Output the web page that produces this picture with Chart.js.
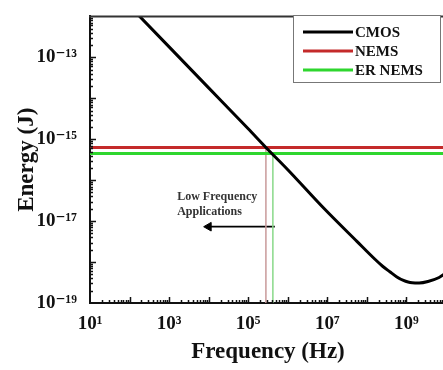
<!DOCTYPE html>
<html><head><meta charset="utf-8">
<script src="https://cdn.jsdelivr.net/npm/chart.js@4.4.1/dist/chart.umd.min.js"></script>
<style>
html,body{margin:0;padding:0;background:#fff;overflow:hidden;}
#wrap{width:443px;height:370px;overflow:hidden;position:relative;background:#fff;}
canvas{display:block;}
</style></head><body>
<div id="wrap"><canvas id="c" width="452" height="370"></canvas></div>
<script>
// ---- data ----
const seriesNames = ['CMOS', 'NEMS', 'ER NEMS'];
const cmosFreq   = [1e2, 1e3, 1e4, 1e5, 2.8e5, 1e6, 8.4e6, 5.6e7, 1.6e8, 2.5e8, 3.8e8, 5.6e8, 8.4e8, 1.1e9, 1.4e9, 2.1e9, 3.5e9, 6.7e9, 1e10];
const cmosEnergy = [1.8e-12, 1.8e-13, 1.8e-14, 1.8e-15, 6.3e-16, 1.8e-16, 2.0e-17, 3.2e-18, 1.17e-18, 7.9e-19, 5.8e-19, 4.4e-19, 3.55e-19, 3.25e-19, 3.12e-19, 3.08e-19, 3.35e-19, 4.2e-19, 5.4e-19];
const flatFreq   = [10, 1e10];
const nemsEnergy   = [6.3e-16, 6.3e-16];
const erNemsEnergy = [4.5e-16, 4.5e-16];
const nemsCrossFreq   = [2.8e5, 2.8e5];
const nemsCrossEnergy = [6.3e-16, 1e-19];
const erCrossFreq     = [4.2e5, 4.2e5];
const erCrossEnergy   = [4.5e-16, 1e-19];
const arrowFreq   = [1e4, 4.7e5];
const arrowEnergy = [7.3e-18, 7.3e-18];
const noteLines  = ['Low Frequency', 'Applications'];
const noteFreq   = 1.6e3;
const noteEnergy = [3.8e-17, 1.7e-17];
const xTickExps  = [1, 2, 3, 4, 5, 6, 7, 8, 9, 10];
const xLabelExps = [1, 3, 5, 7, 9];
const yTickExps  = [-19, -18, -17, -16, -15, -14, -13, -12];
const yLabelExps = [-19, -17, -15, -13];
const xTitle = 'Frequency (Hz)';
const yTitle = 'Energy (J)';

const SERIF = '"Liberation Serif", "DejaVu Serif", "Times New Roman", serif';
const supMap = {'0':'⁰','1':'¹','2':'²','3':'³','4':'⁴','5':'⁵','6':'⁶','7':'⁷','8':'⁸','9':'⁹','-':'⁻'};
const sup = e => String(e).split('').map(c => supMap[c]).join('');
const pts = (xs, ys) => xs.map((v, i) => ({x: v, y: ys[i]}));

const frame = {
  id: 'frame',
  afterDatasetsDraw(chart) {
    const {ctx, chartArea: a, scales: {x, y}} = chart;
    ctx.save();
    ctx.strokeStyle = '#111';
    ctx.lineWidth = 1.5;
    ctx.beginPath();
    for (let i = 0; i < xTickExps.length; i++) {
      for (let k = 1; k <= 9; k++) {
        const px = Math.round(x.getPixelForValue(k * Math.pow(10, xTickExps[i]))) + 0.5;
        if (px < a.left + 1 || px > a.right) continue;
        const len = k === 1 ? 6 : 3;
        ctx.moveTo(px, a.bottom); ctx.lineTo(px, a.bottom - len);
      }
    }
    for (let i = 0; i < yTickExps.length; i++) {
      for (let k = 1; k <= 9; k++) {
        const py = Math.round(y.getPixelForValue(k * Math.pow(10, yTickExps[i]))) + 0.5;
        if (py < a.top + 1 || py > a.bottom - 1) continue;
        const len = k === 1 ? 6 : 3;
        ctx.moveTo(a.left, py); ctx.lineTo(a.left + len, py);
      }
    }
    ctx.stroke();
    ctx.strokeStyle = '#333';
    ctx.lineWidth = 2;
    ctx.beginPath();
    ctx.moveTo(a.left - 1, a.top); ctx.lineTo(a.right + 2, a.top);
    ctx.stroke();
    // annotation text
    ctx.fillStyle = '#333';
    ctx.font = 'bold 12px ' + SERIF;
    ctx.textAlign = 'left';
    ctx.textBaseline = 'middle';
    noteLines.forEach((t, i) => {
      ctx.fillText(t, x.getPixelForValue(noteFreq), y.getPixelForValue(noteEnergy[i]));
    });
    ctx.restore();
  },
  afterDraw(chart) {
    const {ctx} = chart;
    ctx.save();
    const bx = 293.5, by = 15.5, bw = 147, bh = 67;
    ctx.fillStyle = '#fff';
    ctx.fillRect(bx, by, bw, bh);
    ctx.strokeStyle = '#777';
    ctx.lineWidth = 1;
    ctx.strokeRect(bx, by, bw, bh);
    ctx.font = 'bold 15px ' + SERIF;
    ctx.textAlign = 'left';
    ctx.textBaseline = 'middle';
    for (let i = 0; i < 3; i++) {
      const ds = chart.data.datasets[i];
      const yy = 32 + i * 19;
      ctx.strokeStyle = ds.borderColor;
      ctx.lineWidth = 3;
      ctx.beginPath(); ctx.moveTo(303, yy); ctx.lineTo(353, yy); ctx.stroke();
      ctx.fillStyle = '#111';
      ctx.fillText(ds.label, 355, yy + 1);
    }
    ctx.restore();
  }
};

new Chart(document.getElementById('c'), {
  type: 'line',
  data: {
    datasets: [
      {label: seriesNames[0], data: pts(cmosFreq, cmosEnergy), borderColor: '#000', borderWidth: 3, pointRadius: 0, cubicInterpolationMode: 'monotone'},
      {label: seriesNames[1], data: pts(flatFreq, nemsEnergy), borderColor: '#c42a2a', borderWidth: 3, pointRadius: 0},
      {label: seriesNames[2], data: pts(flatFreq, erNemsEnergy), borderColor: '#2ed62e', borderWidth: 3, pointRadius: 0},
      {label: 'nems-drop', data: pts(nemsCrossFreq, nemsCrossEnergy), borderColor: '#c99a9a', borderWidth: 1.5, pointRadius: 0},
      {label: 'er-drop', data: pts(erCrossFreq, erCrossEnergy), borderColor: '#88d888', borderWidth: 1.5, pointRadius: 0},
      {label: 'arrow', data: pts(arrowFreq, arrowEnergy), borderColor: '#000', borderWidth: 1.8,
       pointStyle: 'triangle', pointRotation: -90, pointRadius: [5, 0], pointBackgroundColor: '#000', pointBorderColor: '#000', pointBorderWidth: 1}
    ]
  },
  options: {
    responsive: false,
    animation: false,
    events: [],
    layout: {padding: {top: 10, right: 2, left: 0, bottom: 0}},
    plugins: {legend: {display: false}, tooltip: {enabled: false}},
    scales: {
      x: {
        type: 'logarithmic', position: 'bottom', min: 10, max: 1e10,
        grid: {display: false},
        border: {display: true, color: '#111', width: 2},
        afterBuildTicks: s => { s.ticks = xTickExps.map(e => ({value: Math.pow(10, e)})); },
        afterFit: s => { s.height = 67; },
        ticks: {
          autoSkip: false, maxRotation: 0, padding: 2, color: '#111',
          font: {family: SERIF, weight: 'bold', size: 19},
          callback: v => { const e = Math.round(Math.log10(v)); return xLabelExps.includes(e) ? '10' + sup(e) : ''; }
        },
        title: {display: true, text: xTitle, color: '#111', font: {family: SERIF, weight: 'bold', size: 23}, padding: {top: 0, bottom: 4}}
      },
      y: {
        type: 'logarithmic', position: 'left', min: 1e-19, max: 1e-12,
        grid: {display: false},
        border: {display: true, color: '#111', width: 2},
        afterBuildTicks: s => { s.ticks = yTickExps.map(e => ({value: Math.pow(10, e)})); },
        afterFit: s => { s.width = 90; },
        ticks: {
          autoSkip: false, padding: 5, color: '#111',
          font: {family: SERIF, weight: 'bold', size: 19},
          callback: v => { const e = Math.round(Math.log10(v)); return yLabelExps.includes(e) ? '10' + sup(e) : ''; }
        },
        title: {display: true, text: yTitle, color: '#111', font: {family: SERIF, weight: 'bold', size: 23}, padding: {top: 13, bottom: 0}}
      }
    }
  },
  plugins: [frame]
});
</script>
</body></html>
